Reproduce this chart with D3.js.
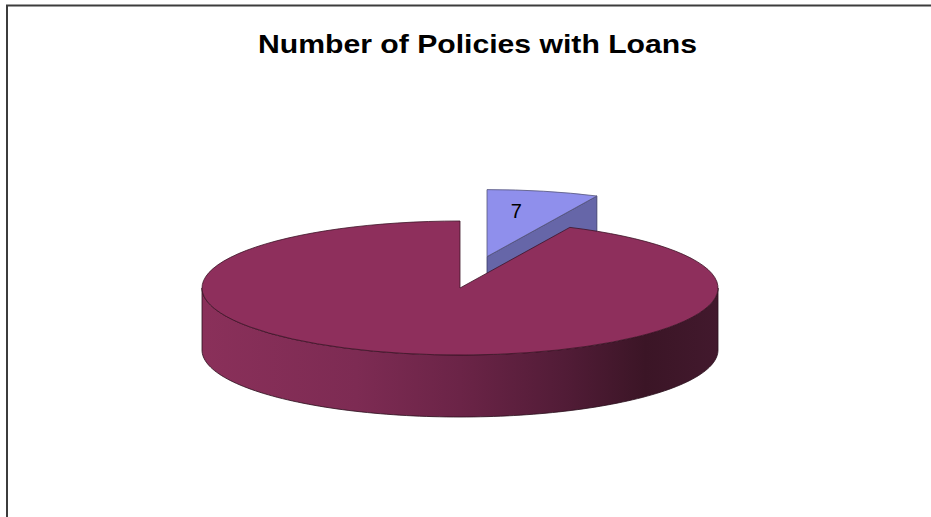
<!DOCTYPE html>
<html>
<head>
<meta charset="utf-8">
<script src="https://cdn.jsdelivr.net/npm/d3@7"></script>
<style>
  body { margin: 0; background: #fff; }
  svg { display: block; }
</style>
</head>
<body>
<script>
const title = "Number of Policies with Loans";
const categories = ["With Loans", "Without Loans"];
const values = [7, 93];
const dataLabels = ["7", null];
const exploded = [0.48, 0];

const width = 931;
const height = 517;

// pie geometry (3D look)
const cx = 460, cy = 288;
const rx = 258, ry = 67, depth = 62;

const topColors = ["#8f8fec", "#8e2f5c"];
const sideColors = ["#6666a8", "url(#sideGrad)"];

const svg = d3.select("body")
  .append("svg")
  .attr("width", width)
  .attr("height", height);

const grad = svg.append("defs").append("linearGradient")
  .attr("id", "sideGrad")
  .attr("gradientUnits", "userSpaceOnUse")
  .attr("x1", cx - rx).attr("x2", cx + rx)
  .attr("y1", 0).attr("y2", 0);
[[0, "#8a305a"], [0.3, "#7d2b53"], [0.5, "#6b2447"], [0.7, "#521c37"],
 [0.86, "#3b1526"], [1, "#42192d"]].forEach(s => {
  grad.append("stop").attr("offset", s[0]).attr("stop-color", s[1]);
});

// frame
svg.append("rect")
  .attr("x", 7).attr("y", 5.5)
  .attr("width", 1000).attr("height", 600)
  .attr("fill", "none")
  .attr("stroke", "#3c3c3c")
  .attr("stroke-width", 2);

svg.append("text")
  .attr("x", 477.5)
  .attr("y", 53)
  .attr("text-anchor", "middle")
  .attr("font-family", "Liberation Sans, Arial, sans-serif")
  .attr("font-weight", "bold")
  .attr("font-size", 26)
  .attr("textLength", 439)
  .attr("lengthAdjust", "spacingAndGlyphs")
  .text(title);

const pie = d3.pie().sort(null).value(d => d);
const arcs = pie(values);

const proj = (a, r, ox, oy, dz) => [ox + r * Math.sin(a), oy - (r * ry / rx) * Math.cos(a) + dz];

const line = d3.line();

function offsetOf(d, i) {
  const mid = (d.startAngle + d.endAngle) / 2;
  const e = exploded[i] * rx;
  return [e * Math.sin(mid), -e * ry / rx * Math.cos(mid)];
}

function drawSlice(d, i) {
  const [dx, dy] = offsetOf(d, i);
  const ox = cx + dx, oy = cy + dy;
  const g = svg.append("g");

  // front outer wall
  const a0 = Math.max(d.startAngle, Math.PI / 2);
  const a1 = Math.min(d.endAngle, 3 * Math.PI / 2);
  if (a1 > a0) {
    const steps = d3.range(0, 121).map(k => a0 + (a1 - a0) * k / 120);
    const pts = steps.map(a => proj(a, rx, ox, oy, 0))
      .concat(steps.slice().reverse().map(a => proj(a, rx, ox, oy, depth)));
    g.append("path")
      .attr("d", line(pts) + "Z")
      .attr("fill", sideColors[i])
      .attr("stroke", "#2a0f1c")
      .attr("stroke-width", 0.8);
  }

  // radial wall at end angle (visible when it faces front)
  if (Math.cos(d.endAngle) > 0 && d.endAngle < Math.PI) {
    const pts = [proj(0, 0, ox, oy, 0), proj(d.endAngle, rx, ox, oy, 0),
                 proj(d.endAngle, rx, ox, oy, depth), proj(0, 0, ox, oy, depth)];
    g.append("path")
      .attr("d", line(pts) + "Z")
      .attr("fill", sideColors[i])
      .attr("stroke", "#3a3a66")
      .attr("stroke-width", 0.8);
  }

  // top face
  const arc = d3.arc().innerRadius(0).outerRadius(rx);
  g.append("path")
    .attr("d", arc(d))
    .attr("transform", `translate(${ox},${oy}) scale(1,${ry / rx})`)
    .attr("fill", topColors[i])
    .attr("stroke", i === 0 ? "#55557a" : "#3d1427")
    .attr("stroke-width", 0.8)
    .attr("vector-effect", "non-scaling-stroke");

  if (dataLabels[i]) {
    const mid = (d.startAngle + d.endAngle) / 2;
    g.append("text")
      .attr("x", ox + 0.52 * rx * Math.sin(mid))
      .attr("y", oy - 0.7 * ry * Math.cos(mid))
      .attr("text-anchor", "middle")
      .attr("dominant-baseline", "central")
      .attr("font-family", "Liberation Sans, Arial, sans-serif")
      .attr("font-size", 20)
      .attr("fill", "#000")
      .text(dataLabels[i]);
  }
}

// back slice first (exploded one sits behind)
drawSlice(arcs[0], 0);
drawSlice(arcs[1], 1);
</script>
</body>
</html>
